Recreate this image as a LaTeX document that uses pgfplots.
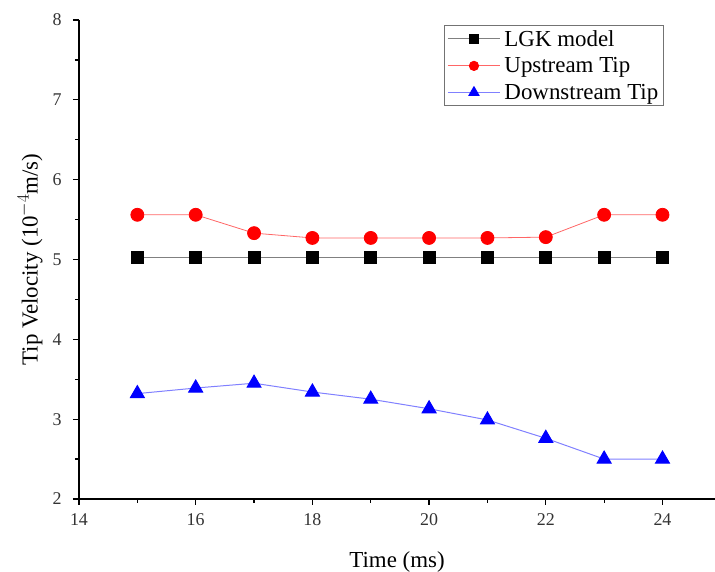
\documentclass[border=0pt]{standalone}
\usepackage{fontspec}
\setmainfont{Liberation Serif}
\usepackage{pgfplots}
\pgfplotsset{compat=1.18}
\begin{document}
\begin{tikzpicture}
\begin{axis}[name=ax,
  scale only axis, width=636bp, height=479bp,
  xmin=14, xmax=24.9, ymin=2, ymax=8,
  axis x line=bottom, axis y line=left,
  axis line style={-, line width=1.3bp},
  xtick={14,16,...,24}, ytick={2,3,...,8},
  minor xtick={15,17,...,23}, minor ytick={2.5,3.5,...,7.5},
  tick align=outside,
  major tick length=6bp, minor tick length=4bp,
  every tick/.style={black, line width=1.2bp},
  tick label style={font=\fontsize{18}{20}\selectfont, text=black!80},
  xticklabel style={yshift=-5bp},
  yticklabel style={xshift=-8bp},
  /pgf/number format/assume math mode=true,
  xlabel={Time (ms)}, ylabel={Tip Velocity (10$^{-4}$m/s)},
  label style={font=\fontsize{23}{25}\selectfont},
  xlabel style={at={(axis description cs:0.5,-0.1315)}, anchor=center},
  ylabel style={at={(axis description cs:-0.077,0.5)}, anchor=center},
  legend style={at={(0.574,0.99)}, anchor=north west, draw=black!55, line width=0.8bp,
    font=\fontsize{23}{27}\selectfont, row sep=6bp, inner sep=3bp,
    /tikz/every odd column/.append style={column sep=2bp}},
  legend cell align=left,
  legend image code/.code={
    \draw[#1, mark repeat=2, mark phase=2, every mark/.append style={scale=0.72}]
      plot coordinates {(0bp,0bp)(26bp,0bp)(52bp,0bp)};},
  clip=false,
]
\addplot[gray, line width=0.8bp, mark=square*, mark size=6bp, mark options={black, solid}]
 coordinates {(15,5.02)(16,5.02)(17,5.02)(18,5.02)(19,5.02)(20,5.02)(21,5.02)(22,5.02)(23,5.02)(24,5.02)};
\addlegendentry{LGK model}
\addplot[red!60, line width=0.8bp, mark=*, mark size=6.5bp, mark options={red, draw=red}]
 coordinates {(15,5.56)(16,5.56)(17,5.33)(18,5.27)(19,5.27)(20,5.27)(21,5.27)(22,5.28)(23,5.56)(24,5.56)};
\addlegendentry{Upstream Tip}
\addplot[blue!50, line width=1bp, mark=triangle*, mark size=8bp, mark options={blue, draw=blue}]
 coordinates {(15,3.32)(16,3.39)(17,3.45)(18,3.34)(19,3.25)(20,3.13)(21,2.99)(22,2.76)(23,2.50)(24,2.50)};
\addlegendentry{Downstream Tip}
\end{axis}
\pgfresetboundingbox
\path ([shift={(-79bp,-73bp)}]ax.south west) rectangle ([shift={(0bp,20bp)}]ax.north east);
\end{tikzpicture}
\end{document}
